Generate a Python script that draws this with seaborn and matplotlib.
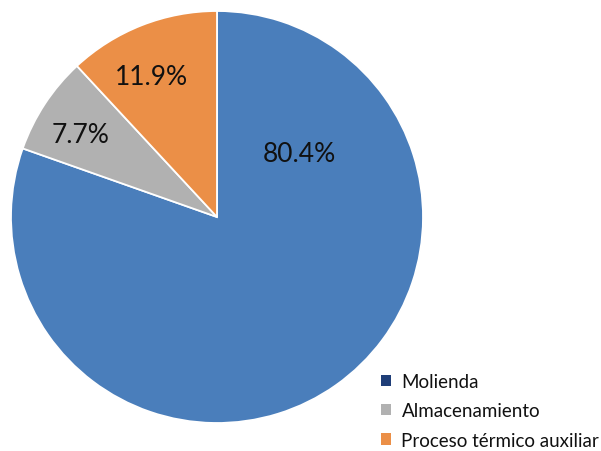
import matplotlib
matplotlib.use("Agg")
import matplotlib.pyplot as plt
from matplotlib.patches import Patch
import seaborn as sns

categories = ["Molienda", "Almacenamiento", "Proceso térmico auxiliar"]
shares = [80.4, 7.7, 11.9]
wedge_colors = ["#4A7EBB", "#B1B1B1", "#EB8F47"]
legend_colors = ["#1F3E78", "#B1B1B1", "#EB8F47"]

sns.set_theme(style="white")
plt.rcParams["font.family"] = ["Lato", "DejaVu Sans"]

fig = plt.figure(figsize=(6.01, 4.52), dpi=100)
ax = fig.add_axes([11 / 601, 28 / 452, 412 / 601, 412 / 452])

wedges, _, autotexts = ax.pie(
    shares,
    colors=wedge_colors,
    startangle=90,
    counterclock=False,
    radius=1.0,
    autopct=lambda p: f"{p:.1f}%",
    pctdistance=0.75,
    wedgeprops=dict(edgecolor="white", linewidth=1.3),
    textprops=dict(fontsize=19, color="#111111", fontweight="normal"),
)
# the large slice carries its label in the upper-right part of the disc
autotexts[0].set_position((0.40, 0.31))
autotexts[2].set_position((-0.32, 0.68))
autotexts[1].set_position((-0.66, 0.40))
ax.set_xlim(-1, 1)
ax.set_ylim(-1, 1)
ax.set_aspect("equal")
ax.axis("off")

handles = [Patch(facecolor=c, edgecolor="none") for c in legend_colors]
leg = fig.legend(
    handles, categories,
    loc="lower right", bbox_to_anchor=(0.997, 0.005),
    frameon=False, borderpad=0, borderaxespad=0,
    handlelength=0.55, handleheight=0.55, handletextpad=0.55,
    labelspacing=0.66,
    prop=dict(family=["Lato", "DejaVu Sans"], size=13.5, weight="normal"),
)
for t in leg.get_texts():
    t.set_color("#111111")

fig.savefig("out.png", dpi=100, facecolor="white")
